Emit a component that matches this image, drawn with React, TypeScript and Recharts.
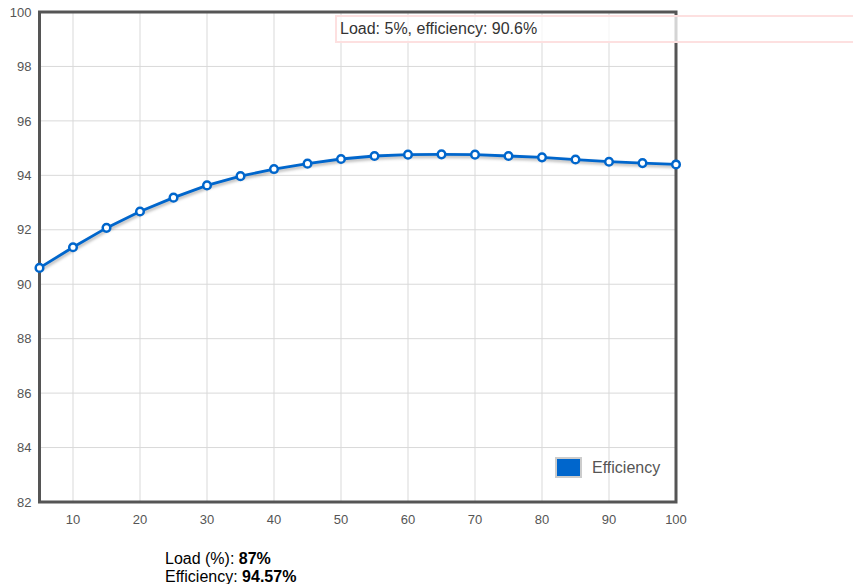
import { LineChart, Line, XAxis, YAxis, CartesianGrid, Tooltip, Legend, ReferenceArea } from 'recharts';

const loads = [5, 10, 15, 20, 25, 30, 35, 40, 45, 50, 55, 60, 65, 70, 75, 80, 85, 90, 95, 100];
const efficiency = [
  90.6, 91.36, 92.07, 92.67, 93.18, 93.63, 93.97, 94.23, 94.43, 94.6,
  94.71, 94.76, 94.77, 94.76, 94.71, 94.66, 94.58, 94.5, 94.45, 94.4,
];
const xTicks = [10, 20, 30, 40, 50, 60, 70, 80, 90, 100];
const yTicks = [82, 84, 86, 88, 90, 92, 94, 96, 98, 100];
const selectedLoad = 87;
const selectedEfficiency = 94.57;

const data = loads.map((load, i) => ({ load, efficiency: efficiency[i] }));

const BLUE = '#0066cc';
const TICK = { fill: '#555', fontSize: 13 };

function HoverBox({ payload }: any) {
  const p = payload && payload.length ? payload[0].payload : data[0];
  return (
    <div
      style={{
        width: 560,
        height: 24,
        boxSizing: 'content-box',
        border: '2px solid #fde0e0',
        background: 'rgba(255,255,255,0.75)',
        padding: '0 3px',
        fontSize: 16,
        lineHeight: '24px',
        color: '#333',
        whiteSpace: 'nowrap',
      }}
    >
      Load: {p.load}%, efficiency: {p.efficiency.toFixed(1)}%
    </div>
  );
}

function LegendBox() {
  return (
    <div style={{ display: 'flex', alignItems: 'center' }}>
      <div style={{ width: 23, height: 17, background: BLUE, border: '2px solid #ccc' }} />
      <span style={{ marginLeft: 10, fontSize: 16, color: '#555' }}>Efficiency</span>
    </div>
  );
}

export default function App() {
  return (
    <div
      style={{
        position: 'fixed',
        left: 0,
        top: 0,
        width: 853,
        height: 584,
        overflow: 'hidden',
        background: '#fff',
        fontFamily: '"Liberation Sans", Arial, sans-serif',
      }}
    >
      <style>{`.eff-line .recharts-line-curve { filter: drop-shadow(1px 2px 1.5px rgba(0,0,0,0.3)); }`}</style>
      <LineChart
        width={853}
        height={560}
        data={data}
        margin={{ top: 12, right: 177, left: 0, bottom: 0 }}
      >
        <CartesianGrid stroke="#d9d9d9" />
        <XAxis
          dataKey="load"
          type="number"
          domain={[5, 100]}
          ticks={xTicks}
          height={58}
          axisLine={false}
          tickLine={false}
          tickSize={0}
          tickMargin={13}
          tick={TICK}
        />
        <YAxis
          domain={[82, 100]}
          ticks={yTicks}
          width={39.5}
          axisLine={false}
          tickLine={false}
          tickSize={0}
          tickMargin={8}
          tick={TICK}
        />
        <ReferenceArea x1={5} x2={100} y1={82} y2={100} fill="none" stroke="#555" strokeWidth={3} />
        <Tooltip
          active
          defaultIndex={0}
          cursor={false}
          position={{ x: 335, y: 15 }}
          isAnimationActive={false}
          content={<HoverBox />}
        />
        <Legend
          layout="horizontal"
          verticalAlign="middle"
          align="center"
          wrapperStyle={{ left: 555, top: 457, width: 'auto' }}
          content={<LegendBox />}
        />
        <Line
          className="eff-line"
          type="linear"
          dataKey="efficiency"
          name="Efficiency"
          stroke={BLUE}
          strokeWidth={2.8}
          dot={{ r: 3.8, fill: '#fff', stroke: BLUE, strokeWidth: 2.5 }}
          activeDot={false}
          isAnimationActive={false}
        />
      </LineChart>
      <div style={{ position: 'absolute', left: 165, top: 550, fontSize: 16, lineHeight: '18.4px', color: '#000' }}>
        <div>
          Load (%): <b>{selectedLoad}%</b>
        </div>
        <div>
          Efficiency: <b>{selectedEfficiency}%</b>
        </div>
      </div>
    </div>
  );
}
